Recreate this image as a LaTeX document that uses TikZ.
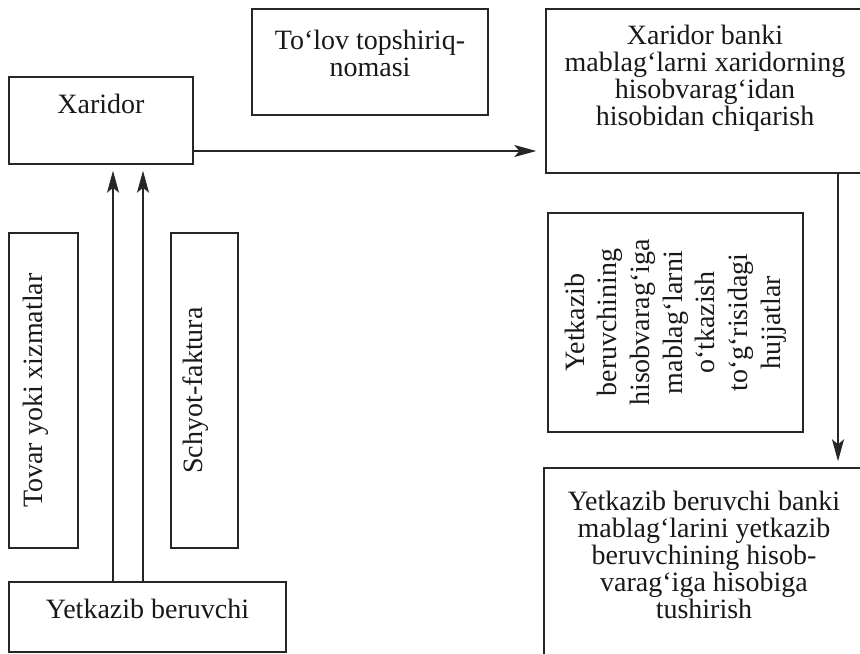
\documentclass[tikz,border=0pt]{standalone}
\usepackage{fontspec}
\setmainfont{Liberation Serif}
\usetikzlibrary{arrows.meta}

\tikzset{
    box/.style={rectangle, draw=black!85, line width=0.7pt, inner sep=0pt, align=center, text=black!90, font=\fontsize{14}{13.5}\selectfont},
    arr/.style={draw=black!85, line width=0.7pt, -{Stealth[length=11pt, width=6pt, inset=2.5pt]}}
}

\begin{document}
\begin{tikzpicture}[x=0.5pt, y=-0.5pt]
    \useasboundingbox (0,0) rectangle (860,653);
    \clip (0,0) rectangle (860,653);

    \node(xaridor) [box, minimum width=92pt, minimum height=43.5pt, text depth=17pt] at (101,120.5) {Xaridor};
    \node(tolov) [box, minimum width=118pt, minimum height=53pt] at (370,62) {To‘lov topshiriq-\\nomasi\\[-5pt]\mbox{}};
    \node(xbank) [box, minimum width=159pt, minimum height=82pt] at (705,91) {Xaridor banki\\mablag‘larni xaridorning\\hisobvarag‘idan\\hisobidan chiqarish\\[2pt]\mbox{}};
    \node(hujjat) [box, rotate=90, minimum width=109.5pt, minimum height=127.5pt, font=\fontsize{14}{16.35}\selectfont] at (675.5,322.5) {Yetkazib\\beruvchining\\hisobvarag‘iga\\mablag‘larni\\o‘tkazish\\to‘g‘risidagi\\hujjatlar};
    \node(ybank) [box, minimum width=160pt, minimum height=96pt] at (704,564) {Yetkazib beruvchi banki\\mablag‘larini yetkazib\\beruvchining hisob-\\varag‘iga hisobiga\\tushirish\\[-4.5pt]\mbox{}};
    \node(tovar) [box, rotate=90, minimum width=157.5pt, minimum height=34.5pt, text depth=10.5pt] at (43.5,390.5) {Tovar yoki xizmatlar};
    \node(schyot) [box, rotate=90, minimum width=157.5pt, minimum height=33.5pt, text depth=12pt] at (204.5,390.5) {Schyot-faktura};
    \node(yetkaz) [box, minimum width=138.5pt, minimum height=35pt, text depth=8.5pt] at (147.5,617) {Yetkazib beruvchi};

    \draw[arr, shorten >=4.5pt] (xaridor.east |- 0,151) -- (xbank.west |- 0,151);
    \draw[arr, shorten >=3pt] (838,0 |- xbank.south) -- (838,0 |- ybank.north);
    \foreach \x in {113,143}
        \draw[arr, shorten >=3pt] (\x,0 |- yetkaz.north) -- (\x,0 |- xaridor.south);
\end{tikzpicture}
\end{document}
